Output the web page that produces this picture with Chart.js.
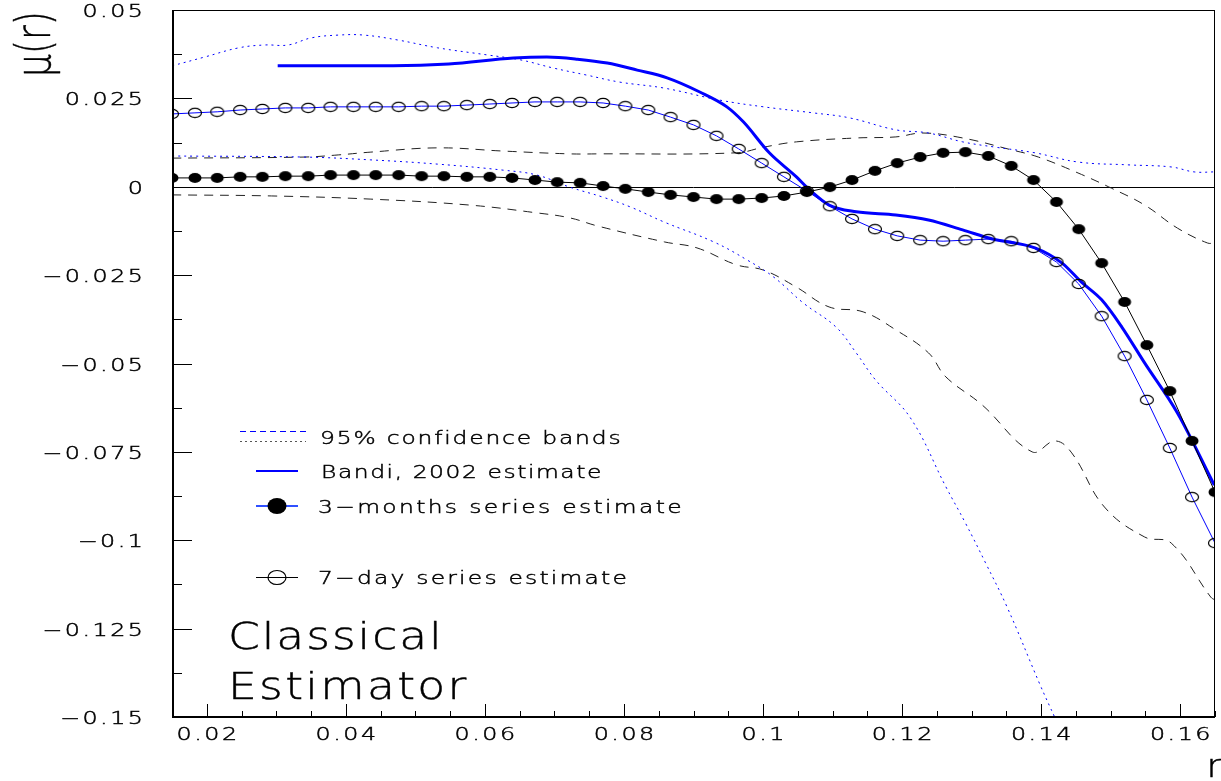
<!DOCTYPE html>
<html>
<head>
<meta charset="utf-8">
<script src="https://cdn.jsdelivr.net/npm/chart.js@4.4.1/dist/chart.umd.min.js"></script>
<style>
  html, body { margin: 0; padding: 0; background: #fff; }
</style>
</head>
<body>
<canvas id="drift" width="1221" height="781"></canvas>
<script>
// r grid shared by the two kernel estimates
const R_GRID = [
  0.0150, 0.0183, 0.0215, 0.0248, 0.0280, 0.0313, 0.0346, 0.0378, 0.0411, 0.0443,
  0.0476, 0.0509, 0.0541, 0.0574, 0.0607, 0.0639, 0.0672, 0.0704, 0.0737, 0.0770,
  0.0802, 0.0835, 0.0867, 0.0900, 0.0933, 0.0965, 0.0998, 0.1030, 0.1063, 0.1096,
  0.1128, 0.1161, 0.1193, 0.1226, 0.1259, 0.1291, 0.1324, 0.1357, 0.1389, 0.1422,
  0.1454, 0.1487, 0.1520, 0.1552, 0.1585, 0.1617, 0.1650
];

// 3-months series estimate (filled markers)
const MU_3M = [
  0.0025, 0.0025, 0.0025, 0.0028, 0.0028, 0.0030, 0.0030, 0.0033, 0.0033, 0.0033,
  0.0033, 0.0030, 0.0030, 0.0028, 0.0028, 0.0025, 0.0019, 0.0013, 0.0011, 0.0002,
  -0.0006, -0.0015, -0.0023, -0.0029, -0.0035, -0.0035, -0.0032, -0.0026, -0.0015, -0.0001,
  0.0019, 0.0045, 0.0067, 0.0084, 0.0096, 0.0098, 0.0087, 0.0059, 0.0019, -0.0043,
  -0.0120, -0.0216, -0.0326, -0.0448, -0.0578, -0.0719, -0.0864
];

// 7-day series estimate (open markers)
const MU_7D = [
  0.0206, 0.0209, 0.0212, 0.0217, 0.0220, 0.0223, 0.0223, 0.0226, 0.0226, 0.0226,
  0.0226, 0.0228, 0.0228, 0.0231, 0.0234, 0.0237, 0.0240, 0.0240, 0.0240, 0.0237,
  0.0228, 0.0217, 0.0197, 0.0175, 0.0144, 0.0107, 0.0067, 0.0028, -0.0012, -0.0055,
  -0.0091, -0.0120, -0.0139, -0.0151, -0.0154, -0.0151, -0.0148, -0.0154, -0.0173, -0.0213,
  -0.0275, -0.0366, -0.0479, -0.0603, -0.0739, -0.0878, -0.1008
];

// Bandi (2002) estimate
const BANDI_R = [
  0.0302, 0.0468, 0.0548, 0.0641, 0.0689, 0.0733, 0.0776, 0.0819, 0.0862, 0.0909,
  0.0948, 0.0972, 0.1009, 0.1048, 0.1067, 0.1095, 0.1134, 0.1191, 0.1238, 0.1287,
  0.1330, 0.1391, 0.1430, 0.1458, 0.1487, 0.1516, 0.1549, 0.1596, 0.1649
];
const BANDI_MU = [
  0.0342, 0.0342, 0.0347, 0.0364, 0.0367, 0.0361, 0.0350, 0.0330, 0.0308, 0.0268,
  0.0226, 0.0183, 0.0096, 0.0028, -0.0009, -0.0052, -0.0071, -0.0080, -0.0094, -0.0122,
  -0.0148, -0.0173, -0.0216, -0.0270, -0.0320, -0.0397, -0.0499, -0.0640, -0.0844
];

// 95% confidence bands
const BAND_BLUE_HI_R = [
  0.0150, 0.0197, 0.0246, 0.0283, 0.0317, 0.0350, 0.0389, 0.0426, 0.0475, 0.0532,
  0.0603, 0.0651, 0.0698, 0.0746, 0.0794, 0.0858, 0.0938, 0.1001, 0.1072, 0.1124,
  0.1191, 0.1238, 0.1287, 0.1334, 0.1391, 0.1453, 0.1524, 0.1587, 0.1620, 0.1650
];
const BAND_BLUE_HI_MU = [
  0.0342, 0.0367, 0.0393, 0.0401, 0.0401, 0.0421, 0.0429, 0.0429, 0.0415, 0.0393,
  0.0373, 0.0359, 0.0336, 0.0316, 0.0296, 0.0279, 0.0245, 0.0226, 0.0209, 0.0195,
  0.0161, 0.0152, 0.0127, 0.0112, 0.0096, 0.0070, 0.0062, 0.0056, 0.0042, 0.0042
];
const BAND_BLUE_LO_R = [
  0.0150, 0.0340, 0.0436, 0.0532, 0.0626, 0.0675, 0.0722, 0.0769, 0.0809, 0.0858,
  0.0929, 0.0977, 0.1015, 0.1058, 0.1105, 0.1134, 0.1162, 0.1212, 0.1263, 0.1291,
  0.1320, 0.1351, 0.1398, 0.1420
];
const BAND_BLUE_LO_MU = [
  0.0087, 0.0084, 0.0076, 0.0064, 0.0047, 0.0033, -0.0001, -0.0029, -0.0057, -0.0100,
  -0.0156, -0.0207, -0.0255, -0.0329, -0.0397, -0.0470, -0.0547, -0.0654, -0.0849, -0.0951,
  -0.1064, -0.1189, -0.1407, -0.1503
];
const BAND_BLACK_HI_R = [
  0.0150, 0.0340, 0.0389, 0.0436, 0.0532, 0.0626, 0.0722, 0.0762, 0.0962, 0.1001,
  0.1048, 0.1134, 0.1191, 0.1230, 0.1287, 0.1358, 0.1396, 0.1453, 0.1501, 0.1549,
  0.1596, 0.1639, 0.1650
];
const BAND_BLACK_HI_MU = [
  0.0081, 0.0084, 0.0090, 0.0098, 0.0110, 0.0101, 0.0093, 0.0093, 0.0096, 0.0112,
  0.0127, 0.0138, 0.0141, 0.0152, 0.0138, 0.0104, 0.0084, 0.0039, -0.0004, -0.0052,
  -0.0117, -0.0159, -0.0159
];
const BAND_BLACK_LO_R = [
  0.0150, 0.0293, 0.0436, 0.0579, 0.0675, 0.0722, 0.0762, 0.0858, 0.0905, 0.0962,
  0.1001, 0.1048, 0.1095, 0.1144, 0.1191, 0.1238, 0.1263, 0.1315, 0.1387, 0.1420,
  0.1444, 0.1491, 0.1549, 0.1587, 0.1644, 0.1650
];
const BAND_BLACK_LO_MU = [
  -0.0023, -0.0026, -0.0035, -0.0052, -0.0074, -0.0088, -0.0111, -0.0156, -0.0173, -0.0221,
  -0.0236, -0.0284, -0.0340, -0.0354, -0.0405, -0.0470, -0.0538, -0.0617, -0.0750, -0.0719,
  -0.0753, -0.0906, -0.0991, -0.1008, -0.1161, -0.1169
];

// labelled ticks
const X_TICKS = [0.02, 0.04, 0.06, 0.08, 0.10, 0.12, 0.14, 0.16];
const Y_TICKS = [0.05, 0.025, 0, -0.025, -0.05, -0.075, -0.1, -0.125, -0.15];

const FACE = "'DejaVu Sans'";
const BLUE = '#0000ff';

const pts = (xs, ys) => xs.map((x, i) => ({ x, y: ys[i] }));
const fmt = v => String(+v.toFixed(4)).replace('-', '\u2212');

function ellipse(rx, ry, filled) {
  const c = document.createElement('canvas');
  c.width = 16;
  c.height = 12;
  const g = c.getContext('2d');
  g.beginPath();
  g.ellipse(8, 6, rx, ry, 0, 0, Math.PI * 2);
  if (filled) { g.fillStyle = '#000'; g.fill(); }
  else { g.strokeStyle = '#000'; g.lineWidth = 1.2; g.stroke(); }
  return c;
}

const dotFull = ellipse(6.5, 5, true);
const dotOpen = ellipse(6.5, 4.6, false);

// wide, thin lettering: glyphs stretched horizontally by sx
function wideText(ctx, txt, x, y, size, sx, spacing, align) {
  align = align || 'left';
  ctx.save();
  ctx.font = `200 ${size}px ${FACE}`;
  ctx.letterSpacing = spacing + 'px';
  ctx.textAlign = align;
  ctx.textBaseline = 'alphabetic';
  ctx.fillStyle = '#000';
  ctx.strokeStyle = '#000';
  ctx.lineWidth = 0.45;
  const shift = align === 'right' ? spacing * sx : align === 'center' ? spacing * sx / 2 : 0;
  ctx.translate(x + shift, y);
  ctx.scale(sx, 1);
  ctx.fillText(txt, 0, 0);
  ctx.strokeText(txt, 0, 0);
  ctx.restore();
}

const frame = {
  id: 'frame',
  beforeDatasetsDraw(chart) {
    const { ctx, chartArea: a, scales: { y } } = chart;
    const y0 = Math.round(y.getPixelForValue(0)) + 0.5;
    ctx.save();
    ctx.strokeStyle = '#000';
    ctx.lineWidth = 1;
    ctx.beginPath();
    ctx.moveTo(a.left, y0);
    ctx.lineTo(a.right, y0);
    ctx.stroke();
    ctx.restore();
  },
  afterDraw(chart) {
    const { ctx, chartArea: a, scales: { x, y } } = chart;
    ctx.save();
    ctx.strokeStyle = '#000';

    // inward tick marks
    ctx.lineWidth = 1;
    ctx.beginPath();
    for (let v = 0.015; v <= 0.1651; v += 0.005) {
      const px = Math.round(x.getPixelForValue(v)) + 0.5;
      const major = X_TICKS.some(t => Math.abs(t - v) < 1e-6);
      ctx.moveTo(px, a.bottom);
      ctx.lineTo(px, a.bottom - (major ? 13 : 6));
    }
    for (let v = -0.15; v <= 0.0501; v += 0.0125) {
      const py = Math.round(y.getPixelForValue(v)) + 0.5;
      const major = Y_TICKS.some(t => Math.abs(t - v) < 1e-6);
      ctx.moveTo(a.left, py);
      ctx.lineTo(a.left + (major ? 20 : 10), py);
    }
    ctx.stroke();

    // box
    ctx.lineWidth = 1;
    ctx.strokeRect(a.left + 0.5, a.top + 0.5, a.right - a.left - 1, a.bottom - a.top - 1);
    ctx.lineWidth = 2;
    ctx.beginPath();
    ctx.moveTo(a.left + 1, a.top);
    ctx.lineTo(a.left + 1, a.bottom);
    ctx.lineTo(a.right, a.bottom);
    ctx.stroke();

    // tick labels, placed by the scales
    X_TICKS.forEach(v => wideText(ctx, fmt(v), x.getPixelForValue(v), a.bottom + 23, 17, 1.4, 1.8, 'center'));
    Y_TICKS.forEach(v => wideText(ctx, fmt(v), a.left - 29, y.getPixelForValue(v) + 7, 17, 1.4, 1.8, 'right'));

    // axis titles
    ctx.save();
    ctx.translate(50, 77);
    ctx.rotate(-Math.PI / 2);
    wideText(ctx, '\u03bc(r)', 0, 0, 48, 0.75, 0);
    ctx.restore();
    wideText(ctx, 'r', 1222, 777, 32, 1.2, 0, 'right');

    // legend
    ctx.lineWidth = 1;
    ctx.strokeStyle = BLUE;
    ctx.setLineDash([6, 4]);
    ctx.beginPath(); ctx.moveTo(240, 431.5); ctx.lineTo(306, 431.5); ctx.stroke();
    ctx.strokeStyle = '#555';
    ctx.setLineDash([2, 3]);
    ctx.beginPath(); ctx.moveTo(240, 441.5); ctx.lineTo(306, 441.5); ctx.stroke();
    ctx.setLineDash([]);

    ctx.strokeStyle = BLUE;
    ctx.lineWidth = 2;
    ctx.beginPath(); ctx.moveTo(256, 471); ctx.lineTo(298, 471); ctx.stroke();

    ctx.strokeStyle = '#3050ff';
    ctx.lineWidth = 2;
    ctx.beginPath(); ctx.moveTo(256, 506); ctx.lineTo(298, 506); ctx.stroke();
    ctx.fillStyle = '#000';
    ctx.beginPath(); ctx.ellipse(277, 506, 9.5, 8, 0, 0, Math.PI * 2); ctx.fill();

    ctx.strokeStyle = '#000';
    ctx.lineWidth = 1.2;
    ctx.beginPath(); ctx.moveTo(256, 577.5); ctx.lineTo(298, 577.5); ctx.stroke();
    ctx.beginPath(); ctx.ellipse(277, 577.5, 9, 7, 0, 0, Math.PI * 2); ctx.stroke();

    wideText(ctx, '95% confidence bands', 320, 443.5, 18, 1.3, 1.4);
    wideText(ctx, 'Bandi, 2002 estimate', 321, 478, 18, 1.3, 1.2);
    wideText(ctx, '3\u2212months series estimate', 318, 512.5, 18, 1.3, 1.8);
    wideText(ctx, '7\u2212day series estimate', 318, 583.5, 18, 1.3, 1.7);

    wideText(ctx, 'Classical', 228, 649, 38, 1.2, 1.6);
    wideText(ctx, 'Estimator', 228, 699, 38, 1.2, 1.9);

    ctx.restore();
  }
};

new Chart(document.getElementById('drift'), {
  type: 'line',
  data: {
    datasets: [
      {
        label: '3-months series estimate',
        data: pts(R_GRID, MU_3M),
        borderColor: '#000', borderWidth: 1,
        pointStyle: dotFull, pointRadius: 5,
        tension: 0,
      },
      {
        label: '7-day series estimate',
        data: pts(R_GRID, MU_7D),
        borderColor: BLUE, borderWidth: 1,
        pointStyle: dotOpen, pointRadius: 5,
        tension: 0,
      },
      {
        label: 'Bandi, 2002 estimate',
        data: pts(BANDI_R, BANDI_MU),
        borderColor: BLUE, borderWidth: 3,
        pointRadius: 0, cubicInterpolationMode: 'monotone',
      },
      {
        label: '95% band (upper)',
        data: pts(BAND_BLUE_HI_R, BAND_BLUE_HI_MU),
        borderColor: BLUE, borderWidth: 1, borderDash: [2, 4],
        pointRadius: 0, tension: 0.4,
      },
      {
        label: '95% band (lower)',
        data: pts(BAND_BLUE_LO_R, BAND_BLUE_LO_MU),
        borderColor: BLUE, borderWidth: 1, borderDash: [2, 4],
        pointRadius: 0, tension: 0.4,
      },
      {
        label: '95% band (upper, 3m)',
        data: pts(BAND_BLACK_HI_R, BAND_BLACK_HI_MU),
        borderColor: '#222', borderWidth: 1, borderDash: [9, 7],
        pointRadius: 0, tension: 0.4,
      },
      {
        label: '95% band (lower, 3m)',
        data: pts(BAND_BLACK_LO_R, BAND_BLACK_LO_MU),
        borderColor: '#222', borderWidth: 1, borderDash: [9, 7],
        pointRadius: 0, tension: 0.4,
      },
    ],
  },
  options: {
    responsive: false,
    animation: false,
    devicePixelRatio: 1,
    layout: { padding: { top: 10, right: 1, left: 0, bottom: 0 } },
    plugins: { legend: { display: false }, tooltip: { enabled: false } },
    scales: {
      x: {
        type: 'linear', min: 0.015, max: 0.165,
        grid: { display: false, drawTicks: false },
        border: { display: false },
        ticks: { display: false },
        afterFit: s => { s.height = 64; s.paddingLeft = 0; s.paddingRight = 0; },
      },
      y: {
        min: -0.15, max: 0.05,
        grid: { display: false, drawTicks: false },
        border: { display: false },
        ticks: { display: false },
        afterFit: s => { s.width = 172; s.paddingTop = 0; s.paddingBottom = 0; },
      },
    },
  },
  plugins: [frame],
});
</script>
</body>
</html>
